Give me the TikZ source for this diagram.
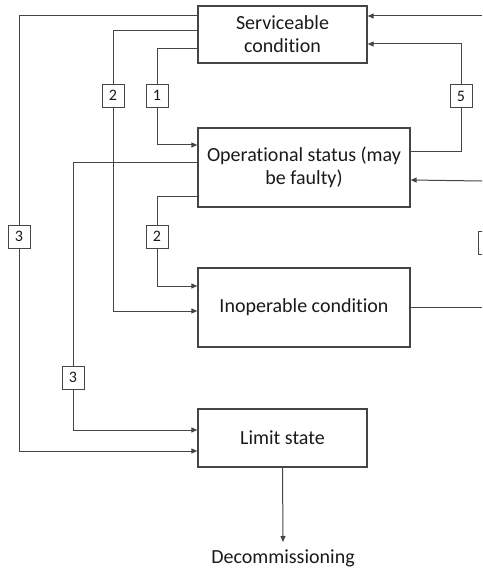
\documentclass[tikz,border=0pt]{standalone}
\usepackage{fontspec}
\setmainfont[Ligatures={NoCommon}]{Carlito}
\usetikzlibrary{arrows.meta}
\definecolor{linegray}{HTML}{454545}
\definecolor{txt}{HTML}{1A1A1A}
\begin{document}
\begin{tikzpicture}[x=1pt,y=-1pt,
  every node/.style={text=txt},
  state/.style={draw=linegray, line width=1.3pt, inner sep=0pt, align=center,
    font=\fontsize{20}{25}\selectfont},
  tag/.style={draw=linegray, line width=0.9pt, minimum width=22pt, minimum height=23pt,
    inner sep=0pt, font=\fontsize{16}{16}\selectfont},
  flow/.style={draw=linegray, line width=1.0pt},
  arr/.style={flow, -{Triangle[length=6pt,width=5pt]}}]
\useasboundingbox (0,0) rectangle (482,572);
\clip (0,0) rectangle (482,572);

% main states
\node[state, minimum width=169pt, minimum height=57pt] (serv) at (282.5,34.5)
  {Serviceable\\[-2pt]condition};
\node[state, minimum width=212pt, minimum height=79pt] (oper) at (304,167.5)
  {Operational status (may\\[-2pt]be faulty)};
\node[state, minimum width=212pt, minimum height=79pt] (inop) at (304,307.5)
  {Inoperable condition};
\node[state, minimum width=169pt, minimum height=58pt] (limit) at (282.5,438)
  {Limit state};
\node[font=\fontsize{20}{25}\selectfont] (decom) at (283,558) {Decommissioning};

% transition tags
\node[tag] (t3a) at (19,236.5) {3};
\node[tag] (t2a) at (113,95.5) {2};
\node[tag] (t1)  at (157,95.5) {1};
\node[tag] (t5)  at (461,96) {5};
\node[tag] (t2b) at (157,236.5) {2};
\node[tag] (t3b) at (73,377.5) {3};
\node[tag] (t4)  at (489,243) {};

% loose ends at the right margin
\coordinate (e1) at (482,16);
\coordinate (e2) at (482,181);
\coordinate (e3) at (482,307);

% serviceable -> limit state (3)
\draw[flow] (serv.west |- 0,16) -| (t3a.north);
\draw[arr] (t3a.south) |- (limit.west |- 0,451);
% serviceable -> inoperable (2)
\draw[flow] (serv.west |- 0,31) -| (t2a.north);
\draw[arr] (t2a.south) |- (inop.west |- 0,311);
% serviceable -> operational (1)
\draw[flow] (serv.west |- 0,49) -| (t1.north);
\draw[arr] (t1.south) |- (oper.west |- 0,145);
% operational -> serviceable (5)
\draw[flow] (oper.east |- 0,152) -| (t5.south);
\draw[arr] (t5.north) |- (serv.east |- 0,44);
% operational -> inoperable (2)
\draw[flow] (oper.west |- 0,196) -| (t2b.north);
\draw[arr] (t2b.south) |- (inop.west |- 0,286);
% operational -> limit state (3)
\draw[flow] (oper.west |- 0,163) -| (t3b.north);
\draw[arr] (t3b.south) |- (limit.west |- 0,430);
% incoming from the right
\draw[arr] (e1) -- (serv.east |- e1);
\draw[arr] (e2) -- (oper.east |- 0,180);
\draw[flow] (inop.east |- e3) -- (e3);
% limit state -> decommissioning
\draw[arr] (limit.south) -- (decom.north |- 0,542);
\end{tikzpicture}
\end{document}
